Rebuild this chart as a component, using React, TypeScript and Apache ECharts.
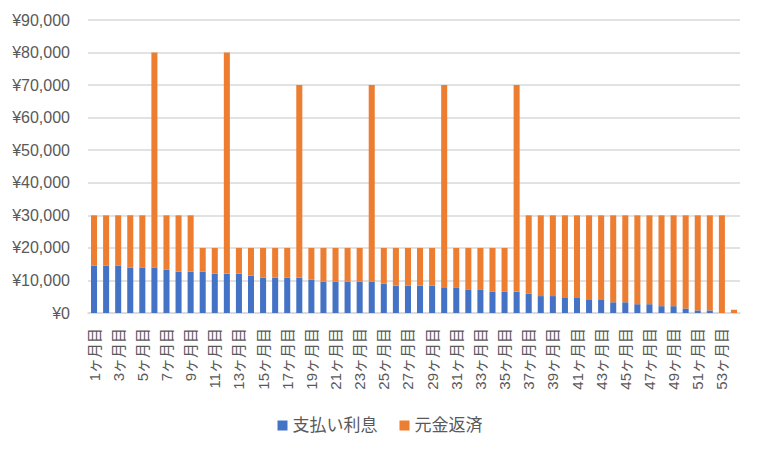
import * as echarts from 'echarts';
import { useEffect, useRef } from 'react';

// 月ラベル
const months: string[] = [];
for (let i = 1; i <= 54; i++) months.push(i + 'ヶ月目');

// 支払い利息
const interest = [
  14600, 14600, 14600, 14000, 14000, 14000, 13300, 12700, 12700, 12700,
  12100, 12100, 12100, 11500, 10900, 10900, 10900, 10900, 10200, 9600,
  9600, 9600, 9600, 9600, 9000, 8400, 8400, 8400, 8400, 7700,
  7700, 7100, 7100, 6500, 6500, 6500, 5900, 5200, 5200, 4600,
  4600, 4000, 4000, 3300, 3300, 2700, 2700, 2100, 2100, 1400,
  800, 800, 0, 0,
];

// 元金返済
const principal = [
  15400, 15400, 15400, 16000, 16000, 66000, 16700, 17300, 17300, 7300,
  7900, 67900, 7900, 8500, 9100, 9100, 9100, 59100, 9800, 10400,
  10400, 10400, 10400, 60400, 11000, 11600, 11600, 11600, 11600, 62300,
  12300, 12900, 12900, 13500, 13500, 63500, 24100, 24800, 24800, 25400,
  25400, 26000, 26000, 26700, 26700, 27300, 27300, 27900, 27900, 28600,
  29200, 29200, 30000, 1000,
];

const FONT = '"Liberation Sans", "Noto Sans CJK JP", sans-serif';
const TEXT = '#595959';

export default function App() {
  const ref = useRef<HTMLDivElement>(null);

  useEffect(() => {
    document.body.style.margin = '0';
    if (!ref.current) return;
    const chart = echarts.init(ref.current, null, { renderer: 'svg' });
    chart.setOption({
      animation: false,
      textStyle: { fontFamily: FONT },
      grid: { left: 88, right: 20, top: 20, bottom: 141, containLabel: false },
      legend: {
        top: 412,
        left: 'center',
        icon: 'rect',
        itemWidth: 10,
        itemHeight: 10,
        itemGap: 22,
        textStyle: { color: TEXT, fontSize: 17, fontFamily: FONT },
        data: ['支払い利息', '元金返済'],
      },
      xAxis: {
        type: 'category',
        data: months,
        axisLine: { show: true, lineStyle: { color: '#d9d9d9', width: 1.5 } },
        axisTick: { show: false },
        axisLabel: {
          interval: 1,
          rotate: 90,
          margin: 15,
          color: TEXT,
          fontSize: 15,
          fontFamily: FONT,
        },
      },
      yAxis: {
        type: 'value',
        min: 0,
        max: 90000,
        interval: 10000,
        axisLine: { show: false },
        axisTick: { show: false },
        splitLine: { lineStyle: { color: '#d9d9d9', width: 1.5 } },
        axisLabel: {
          margin: 18,
          color: TEXT,
          fontSize: 16,
          fontFamily: FONT,
          formatter: (v: number) => '¥' + v.toLocaleString('en-US'),
        },
      },
      series: [
        {
          name: '支払い利息',
          type: 'bar',
          stack: 'total',
          data: interest,
          barWidth: '50%',
          itemStyle: { color: '#4472C4' },
        },
        {
          name: '元金返済',
          type: 'bar',
          stack: 'total',
          data: principal,
          barWidth: '50%',
          itemStyle: { color: '#ED7D31' },
        },
      ],
    });
    return () => chart.dispose();
  }, []);

  return <div ref={ref} style={{ width: 760, height: 454 }} />;
}
